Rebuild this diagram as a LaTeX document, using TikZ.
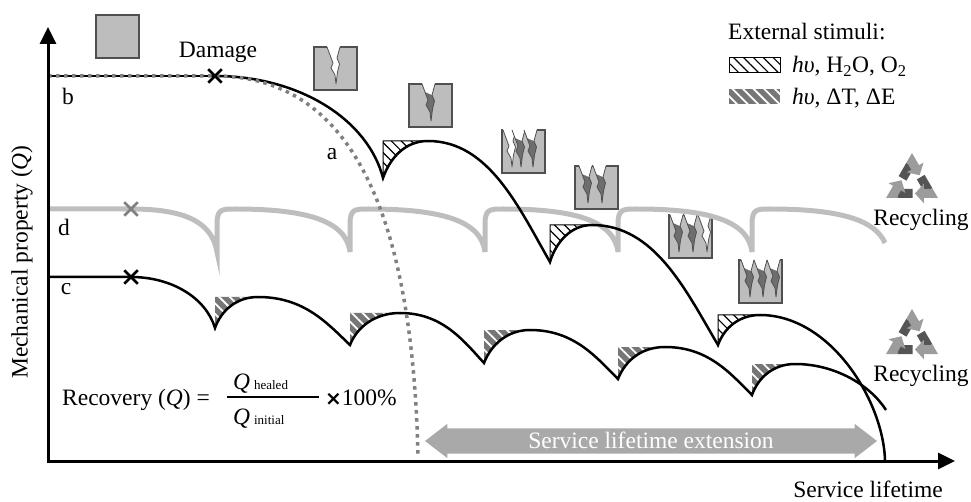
\documentclass[tikz,border=0pt]{standalone}
\usepackage{fontspec}
\setmainfont{Liberation Serif}
\newfontfamily\symfont{DejaVu Sans}
\usetikzlibrary{arrows.meta,shapes.misc,shapes.arrows,patterns.meta,calc}

\definecolor{boxgray}{HTML}{BDBDBD}
\definecolor{edgegray}{HTML}{505050}
\definecolor{crackgray}{HTML}{6E6E6E}
\definecolor{linegray}{HTML}{BEBEBE}
\definecolor{dotgray}{HTML}{808080}
\definecolor{stripegray}{HTML}{767676}
\definecolor{arrowgray}{HTML}{A9A9A9}
\definecolor{recdark}{HTML}{555555}
\definecolor{reclight}{HTML}{9C9C9C}

\tikzset{
  pics/crack/.style={code={
    \fill[#1] (0,0) -- (3,8) -- (6,16) -- (4,21) -- (8,28) -- (9,37) -- (10.5,25) -- (12.5,17) -- (10,11) -- (13,0) -- cycle;
    \fill[white] (0,-1) -- (3,8) -- (10,11) -- (13,-1) -- cycle;
    \draw[edgegray, line width=.8pt, line join=round] (0,0) -- (3,8) -- (6,16) -- (4,21) -- (8,28) -- (9,37) -- (10.5,25) -- (12.5,17) -- (10,11) -- (13,0);
  }},
  pics/recycle/.style={code={
    \foreach \a in {-90,30,150} {
      \draw[recdark, line width=9pt] ($(\a-120:21)!.48!(\a:21)$) -- ($(\a-120:21)!.9!(\a:21)$);
      \draw[reclight, line width=9pt, line join=miter, -{Triangle[length=9pt,width=19pt]}] ($(\a-120:21)!.9!(\a:21)$) -- (\a:21) -- ($(\a:21)!.42!(\a+120:21)$);
    }
  }}
}

\begin{document}
\begin{tikzpicture}[
    x=1pt, y=-1pt,
    every node/.style={font=\fontsize{23.5}{28}\selectfont},
    axis/.style={line width=3pt, {Triangle[length=17pt,width=16pt]}-{Triangle[length=17pt,width=16pt]}},
    curve/.style={line width=2.5pt},
    healcurve/.style={line width=5pt, linegray},
    fail/.style={dotgray, line width=3.5pt, dash pattern=on 3.5pt off 4.5pt},
    sample/.style={draw=edgegray, fill=boxgray, line width=1.2pt},
    xmark/.style={cross out, draw, line width=2.5pt, minimum size=11pt, inner sep=0pt},
    hatchA/.style={pattern={Lines[angle=-45,distance=7pt,line width=1.2pt]}, pattern color=black, draw=black, line width=1pt},
    hatchB/.style={preaction={fill=stripegray}, pattern={Lines[angle=-45,distance=7.5pt,line width=1.8pt]}, pattern color=white},
    lifearrow/.style={double arrow, fill=arrowgray, text=white, double arrow head extend=4.5pt,
        double arrow tip angle=75, minimum height=452pt, text height=16pt, text depth=1pt, inner ysep=4pt, inner xsep=0pt}
    ]
    \useasboundingbox (0,0) rectangle (971,502);

    \coordinate (O) at (48,461);
    \coordinate (ytip) at (48,27);
    \coordinate (xtip) at (955,461);
    \coordinate (dmgb) at (215,76);
    \coordinate (dmgd) at (131,209);
    \coordinate (dmgc) at (131,277);

    % samples
    \path [sample] (96,15) rectangle (139,58);
    \path [sample] (314,47) rectangle (357,90);
    \pic at (327,47) {crack=white};
    \path [sample] (409,84) rectangle (452,127);
    \pic at (422,84) {crack=crackgray};
    \path [sample] (502,130) rectangle (545,173);
    \pic at (503,130) {crack=white};
    \pic at (512,130) {crack=crackgray};
    \pic at (524,130) {crack=crackgray};
    \path [sample] (575,166) rectangle (618,209);
    \pic at (579,166) {crack=crackgray};
    \pic at (593,166) {crack=crackgray};
    \path [sample] (669,215) rectangle (712,258);
    \pic at (670,215) {crack=crackgray};
    \pic at (684,215) {crack=crackgray};
    \pic at (698,215) {crack=white};
    \path [sample] (739,260) rectangle (782,303);
    \pic at (741,260) {crack=crackgray};
    \pic at (754,260) {crack=crackgray};
    \pic at (767,260) {crack=crackgray};

    % healing stimuli
    \path [hatchA] (383,141) -- (383,178) .. controls (390,158) and (405,141) .. (428,141) -- cycle;
    \path [hatchA] (550,225) -- (550,262) .. controls (556,242) and (571,225) .. (592,225) -- cycle;
    \path [hatchA] (718,315) -- (718,345) .. controls (724,328) and (739,315) .. (760,315) -- cycle;
    \path [hatchB] (215,297) -- (215,328) .. controls (221,311) and (236,297) .. (258,297) -- cycle;
    \path [hatchB] (350,313) -- (350,345) .. controls (357,327) and (375,313) .. (400,313) -- cycle;
    \path [hatchB] (484,330) -- (484,363) .. controls (491,345) and (507,330) .. (530,330) -- cycle;
    \path [hatchB] (618,347) -- (618,379) .. controls (625,361) and (641,347) .. (665,347) -- cycle;
    \path [hatchB] (752,364) -- (752,395) .. controls (758,378) and (773,364) .. (795,364) -- cycle;

    % d
    \draw [healcurve] (48,209) -- (dmgd) .. controls (185,209) and (212,222) .. (217,252)
        \foreach \cx/\nx in {217/350,350/485,485/618,618/752} {
            -- (\cx,224) .. controls (\cx,209) and (\cx+5,209) .. (\cx+18,209)
            .. controls (\nx-45,209) and (\nx-4,220) .. (\nx,252)
        }
        -- (752,224) .. controls (752,209) and (757,209) .. (770,209) .. controls (840,209) and (875,220) .. (885,243);

    % c
    \draw [curve] (48,277) -- (dmgc) .. controls (172,277) and (206,298) .. (215,328)
        .. controls (221,311) and (236,297) .. (258,297) .. controls (304,297) and (327,323) .. (350,345)
        .. controls (357,327) and (375,313) .. (400,313) .. controls (442,313) and (463,340) .. (484,363)
        .. controls (491,345) and (507,330) .. (530,330) .. controls (574,330) and (596,357) .. (618,379)
        .. controls (625,361) and (641,347) .. (665,347) .. controls (708,347) and (730,373) .. (752,395)
        .. controls (758,378) and (773,364) .. (795,364) .. controls (835,364) and (870,385) .. (886,410);

    % a and b
    \draw [curve] (48,76) -- (dmgb);
    \draw [curve] (dmgb) .. controls (300,76) and (368,120) .. (383,178)
        .. controls (390,158) and (405,141) .. (428,141) .. controls (489,141) and (519,208) .. (550,262)
        .. controls (556,242) and (571,225) .. (592,225) .. controls (655,225) and (686,291) .. (718,345)
        .. controls (724,328) and (739,315) .. (760,315) .. controls (830,315) and (883,400) .. (885,460);
    \draw [fail] (48,76) -- (dmgb) .. controls (350,76) and (412,210) .. (418,455);

    \draw [axis] (ytip) -- (O) -- (xtip);

    \node [xmark] (xb) at (dmgb) {};
    \node [xmark, draw=dotgray] (xd) at (dmgd) {};
    \node [xmark] (xc) at (dmgc) {};

    \node [anchor=base] (dmg) at (218,58) {Damage};
    \node (lb) at (68,96) {b};
    \node (la) at (332,154) {a};
    \node (ld) at (64,227) {d};
    \node (lc) at (66,289) {c};
    \node [rotate=90] (ylab) at (22,262) {Mechanical property (\textit{Q})};
    \node [anchor=base] (xlab) at (868,497) {Service lifetime};

    % recovery ratio
    \node [anchor=base west, inner sep=0pt] (rec) at (62,405) {Recovery (\textit{Q}) =};
    \node [anchor=base west, inner sep=0pt] (num) at (233,389) {\textit{Q}\,{\fontsize{13}{13}\selectfont healed}};
    \node [anchor=base west, inner sep=0pt] (den) at (233,424) {\textit{Q}\,{\fontsize{13}{13}\selectfont initial}};
    \draw [line width=1.6pt] (227,397) -- (319,397);
    \node [anchor=base west, inner sep=0pt] (pct) at (325,405) {{\symfont\bfseries\fontsize{20}{20}\selectfont ×}100\%};

    \node [lifearrow] (ext) at (651,441) {Service lifetime extension};

    % legend
    \node [anchor=base west, inner sep=0pt] (stim) at (728,40) {External stimuli:};
    \path [hatchA] (729,58) rectangle (780,73);
    \node [anchor=base west, inner sep=0pt] (stimA) at (792,73) {\textit{hυ}, H\textsubscript{2}O, O\textsubscript{2}};
    \path [hatchB] (729,89) rectangle (780,104);
    \node [anchor=base west, inner sep=0pt] (stimB) at (792,105) {\textit{hυ}, ΔT, ΔE};

    % recycling
    \pic at (912,183) {recycle};
    \node [anchor=base] (recy1) at (921,226) {Recycling};
    \pic at (912,339) {recycle};
    \node [anchor=base] (recy2) at (921,381) {Recycling};
\end{tikzpicture}
\end{document}
